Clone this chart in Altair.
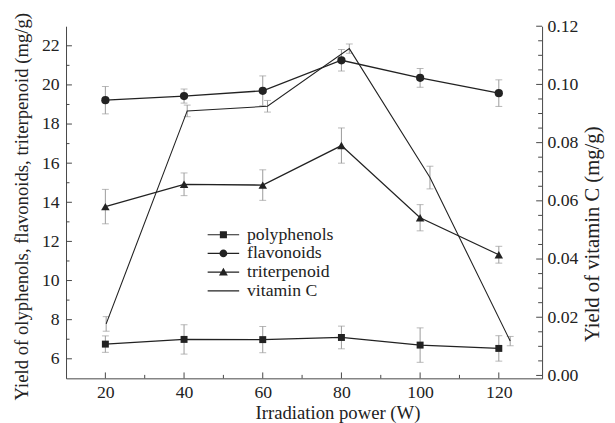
import altair as alt
import pandas as pd

# ---------------- data ----------------
power = [20, 40, 60, 80, 100, 120]
polyphenols = [6.75, 6.99, 6.98, 7.09, 6.70, 6.53]
polyphenols_err = [0.42, 0.75, 0.67, 0.58, 0.88, 0.65]
flavonoids = [19.22, 19.43, 19.70, 21.26, 20.36, 19.58]
flavonoids_err = [0.70, 0.36, 0.76, 0.55, 0.48, 0.68]
triterpenoid = [13.78, 14.92, 14.88, 16.90, 13.21, 11.32]
triterpenoid_err = [0.88, 0.58, 0.78, 0.90, 0.67, 0.43]
vitc_power = [20.2, 40.8, 61.2, 82.0, 102.5, 122.9]
vitamin_c = [0.0177, 0.0909, 0.0925, 0.1123, 0.0680, 0.0118]
vitamin_c_err = [0.0025, 0.0020, 0.0020, 0.0016, 0.0039, 0.0016]

series_names = ["polyphenols", "flavonoids", "triterpenoid", "vitamin C"]
x_major = [20, 40, 60, 80, 100, 120]
x_minor = [30, 50, 70, 90, 110]
yl_major = [6, 8, 10, 12, 14, 16, 18, 20, 22]
yl_minor = [7, 9, 11, 13, 15, 17, 19, 21]
yr_major = [0.0, 0.02, 0.04, 0.06, 0.08, 0.10, 0.12]
yr_minor = [0.005, 0.01, 0.015, 0.025, 0.03, 0.035, 0.045, 0.05, 0.055,
            0.065, 0.07, 0.075, 0.085, 0.09, 0.095, 0.105, 0.11, 0.115]

X_TITLE = "Irradiation power (W)"
YL_TITLE = "Yield of olyphenols, flavonoids, triterpenoid (mg/g)"
YR_TITLE = "Yield of vitamin C (mg/g)"

# ---------------- styling ----------------
W, H = 484, 358
FONT = "Liberation Serif"
INK = "#222222"
ERR = "#9a9a9a"

rows = []
for name, vals, errs in [("polyphenols", polyphenols, polyphenols_err),
                         ("flavonoids", flavonoids, flavonoids_err),
                         ("triterpenoid", triterpenoid, triterpenoid_err)]:
    for xv, v, e in zip(power, vals, errs):
        rows.append({"series": name, "x": xv, "y": v, "lo": v - e, "hi": v + e})
left_df = pd.DataFrame(rows)
vit_df = pd.DataFrame({
    "x": vitc_power, "y": vitamin_c,
    "lo": [v - e for v, e in zip(vitamin_c, vitamin_c_err)],
    "hi": [v + e for v, e in zip(vitamin_c, vitamin_c_err)],
})

xs = alt.Scale(domain=[10, 131], nice=False, zero=False)
yls = alt.Scale(domain=[5, 23], nice=False, zero=False)
yrs = alt.Scale(domain=[-0.001, 0.12], nice=False, zero=False)

x_axis = alt.Axis(values=x_major, labelPadding=5, format="d",
                  titleX=276, titleY=41, titleBaseline="alphabetic", titleFontSize=19)
yl_axis = alt.Axis(values=yl_major, labelPadding=7, format="d",
                   titleX=-45, titleY=183, titleAngle=270, titleBaseline="middle",
                   titleAlign="center", titleFontSize=19)
yr_axis = alt.Axis(values=yr_major, orient="right", labelPadding=5, format=".2f",
                   titleX=51, titleY=211, titleAngle=270, titleBaseline="middle",
                   titleAlign="center", titleFontSize=21)


def X(field="x"):
    return alt.X(f"{field}:Q", scale=xs, axis=x_axis, title=X_TITLE)


def YL(field):
    return alt.Y(f"{field}:Q", scale=yls, axis=yl_axis, title=YL_TITLE)


def YR(field):
    return alt.Y(f"{field}:Q", scale=yrs, axis=yr_axis, title=YR_TITLE)


base_l = alt.Chart(left_df)

err_l = base_l.mark_errorbar(ticks=True, color=ERR, size=7, thickness=1).encode(
    x=X(), y=YL("lo"), y2="hi:Q")
lines_l = base_l.mark_line(color=INK, strokeWidth=1.3).encode(
    x=X(), y=YL("y"), detail="series:N")

shape_map = {"polyphenols": ("square", 50), "flavonoids": ("circle", 70),
             "triterpenoid": ("triangle-up", 75)}
pts = []
for name, (shp, sz) in shape_map.items():
    pts.append(base_l.transform_filter(alt.datum.series == name)
               .mark_point(filled=True, color=INK, opacity=1, shape=shp, size=sz)
               .encode(x=X(), y=YL("y")))

# inward tick marks
xt_major = alt.Chart(pd.DataFrame({"v": x_major})).mark_rule(color="#444").encode(
    x=X("v"), y=alt.value(H), y2=alt.value(H - 6))
xt_minor = alt.Chart(pd.DataFrame({"v": x_minor})).mark_rule(color="#444").encode(
    x=X("v"), y=alt.value(H), y2=alt.value(H - 3.5))
ylt_major = alt.Chart(pd.DataFrame({"v": yl_major})).mark_rule(color="#444").encode(
    y=YL("v"), x=alt.value(0), x2=alt.value(6))
ylt_minor = alt.Chart(pd.DataFrame({"v": yl_minor})).mark_rule(color="#444").encode(
    y=YL("v"), x=alt.value(0), x2=alt.value(3.5))

# legend symbols: a thin filled bar (the line) plus a filled marker, all clockwise
L = "M-1.78,-0.07H1.78V0.07H-1.78Z"
paths = [
    L + "M-0.4,-0.4H0.4V0.4H-0.4Z",
    L + "M-0.44,0A0.44,0.44 0 1,1 0.44,0A0.44,0.44 0 1,1 -0.44,0Z",
    L + "M0,-0.5L0.5,0.38H-0.5Z",
    L,
]
legend_layer = alt.Chart(pd.DataFrame({"series": series_names})).transform_filter(
    "datum.series == 'none'"
).mark_point(filled=True, color=INK).encode(
    x=alt.value(0), y=alt.value(0),
    shape=alt.Shape("series:N",
                    scale=alt.Scale(domain=series_names, range=paths),
                    legend=alt.Legend(
                        title=None, orient="none", legendX=151, legendY=203,
                        symbolSize=324, symbolFillColor=INK, symbolOpacity=1,
                        symbolStrokeWidth=0,
                        labelFont=FONT, labelFontSize=18,
                        labelColor=INK, labelOffset=15, rowPadding=1, padding=0)),
)

left = alt.layer(err_l, lines_l, *pts, xt_major, xt_minor, ylt_major, ylt_minor,
                 legend_layer)

base_r = alt.Chart(vit_df)
err_r = base_r.mark_errorbar(ticks=True, color=ERR, size=7, thickness=1).encode(
    x=X(), y=YR("lo"), y2="hi:Q")
line_r = base_r.mark_line(color=INK, strokeWidth=1.1).encode(x=X(), y=YR("y"))
yrt_major = alt.Chart(pd.DataFrame({"v": yr_major})).mark_rule(color="#444").encode(
    y=YR("v"), x=alt.value(W), x2=alt.value(W - 6))
yrt_minor = alt.Chart(pd.DataFrame({"v": yr_minor})).mark_rule(color="#444").encode(
    y=YR("v"), x=alt.value(W), x2=alt.value(W - 4))
right = alt.layer(err_r, line_r, yrt_major, yrt_minor)

chart = alt.layer(left, right).resolve_scale(y="independent").properties(
    width=W, height=H,
    autosize=alt.AutoSizeParams(type="none"),
    padding={"left": 59, "top": 15, "right": 66, "bottom": 50},
).configure_view(stroke=None).configure_axis(
    grid=False, ticks=False, domainColor="#444", domainWidth=1,
    labelFont=FONT, labelFontSize=18, labelColor=INK,
    titleFont=FONT, titleFontSize=18, titleFontWeight="normal", titleColor=INK,
)

chart.save("out.html", embed_options={"renderer": "svg", "actions": False})
